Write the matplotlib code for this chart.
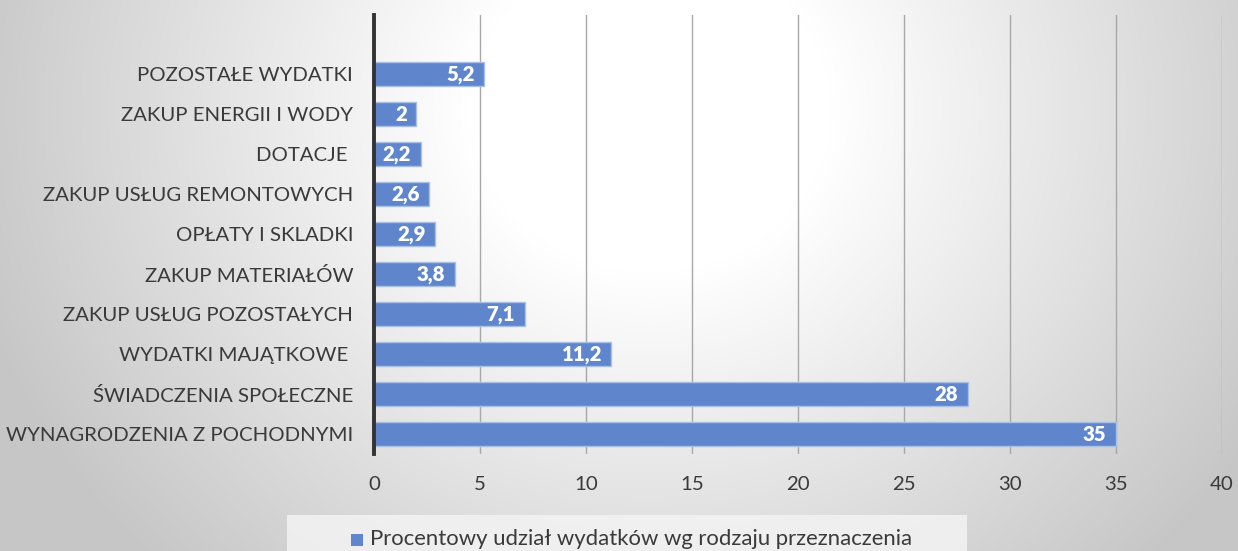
import numpy as np
import matplotlib
matplotlib.use("Agg")
import matplotlib.pyplot as plt
from matplotlib.patches import Rectangle

categories = [
    "WYNAGRODZENIA Z POCHODNYMI",
    "ŚWIADCZENIA SPOŁECZNE",
    "WYDATKI MAJĄTKOWE ",
    "ZAKUP USŁUG POZOSTAŁYCH",
    "ZAKUP MATERIAŁÓW",
    "OPŁATY I SKLADKI",
    "ZAKUP USŁUG REMONTOWYCH",
    "DOTACJE ",
    "ZAKUP ENERGII I WODY",
    "POZOSTAŁE WYDATKI",
]
values = [35, 28, 11.2, 7.1, 3.8, 2.9, 2.6, 2.2, 2, 5.2]
value_labels = ["35", "28", "11,2", "7,1", "3,8", "2,9", "2,6", "2,2", "2", "5,2"]
xticks = [0, 5, 10, 15, 20, 25, 30, 35, 40]
series_name = "Procentowy udział wydatków wg rodzaju przeznaczenia"

plt.rcParams['font.family'] = ['Lato', 'DejaVu Sans']

W, H = 1238, 551
fig = plt.figure(figsize=(W / 100, H / 100), dpi=100)

# background radial gradient
bg = fig.add_axes([0, 0, 1, 1], zorder=-10)
yy, xx = np.mgrid[0:H, 0:W]
d = np.sqrt(((xx - 650) / 1.0) ** 2 + ((yy - 110) / 0.9) ** 2)
val = 1 - 0.22 * np.clip((d - 180) / 520, 0, 1)
img = np.dstack([val, val, val])
bg.imshow(img, aspect='auto', extent=[0, 1, 0, 1], origin='upper')
bg.set_xlim(0, 1)
bg.set_ylim(0, 1)
bg.axis('off')

# legend background box
bg.add_patch(Rectangle((287 / W, 0), (967 - 287) / W, (551 - 515) / H,
                       facecolor='#f3f3f3', edgecolor='none', alpha=0.85))

ax = fig.add_axes([374 / W, 1 - 454 / H, (1222 - 374) / W, (454 - 15) / H])
ax.patch.set_alpha(0)
y = np.arange(len(categories))
bars = ax.barh(y, values, height=0.58, color='#5f86cc', edgecolor='#a9bfe6', linewidth=1.0, zorder=3)
ax.set_xlim(0, 40)
ax.set_ylim(-0.5, 10.475)
ax.set_yticks(y)
ax.set_yticklabels(categories, fontsize=14.7, color='#3a3a3a')
ax.set_xticks(xticks)
ax.set_xticklabels([str(t) for t in xticks], fontsize=14.7, color='#3a3a3a')
ax.tick_params(axis='y', length=0, pad=15)
ax.tick_params(axis='x', length=0, pad=15.5)
ax.grid(axis='x', color='#a8a8a8', linewidth=1.0, zorder=0)
for s in ['top', 'right', 'bottom']:
    ax.spines[s].set_visible(False)
ax.spines['left'].set_color('#333333')
ax.spines['left'].set_linewidth(2.8)
ax.spines['left'].set_zorder(5)

for yi, v, lab in zip(y, values, value_labels):
    ax.text(v - 0.45, yi - 0.02, lab, ha='right', va='center', color='white',
            fontsize=14.7, fontweight='heavy', zorder=6)

# legend
bg.add_patch(Rectangle((351 / W, 1 - 546 / H), 12 / W, 12 / H, facecolor='#5f86cc',
                       edgecolor='none'))
bg.text(370 / W, 1 - 539 / H, series_name, fontsize=15.9, color='#3a3a3a',
        ha='left', va='center')

fig.savefig('out.png', dpi=100)
